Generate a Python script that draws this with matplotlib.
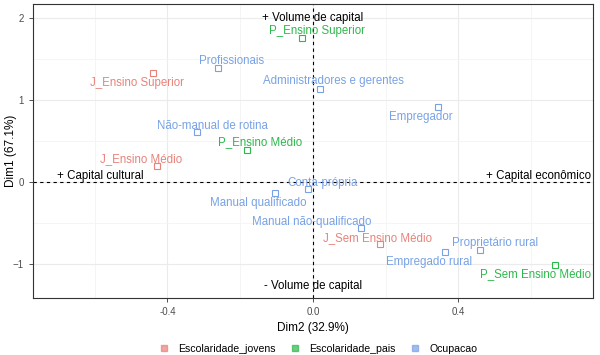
#!/usr/bin/env python3

import matplotlib
matplotlib.use("Agg")
import matplotlib.pyplot as plt
from matplotlib.lines import Line2D

plt.rcParams["font.family"] = ["Liberation Sans", "DejaVu Sans"]

# category coordinates (Dim2 = x, Dim1 = y)
labels = [
    "J_Ensino Superior", "J_Ensino Médio", "J_Sem Ensino Médio",
    "P_Ensino Superior", "P_Ensino Médio", "P_Sem Ensino Médio",
    "Profissionais", "Administradores e gerentes", "Empregador",
    "Não-manual de rotina", "Conta-própria", "Manual qualificado",
    "Manual não-qualificado", "Empregado rural", "Proprietário rural",
]
groups = [
    "Escolaridade_jovens", "Escolaridade_jovens", "Escolaridade_jovens",
    "Escolaridade_pais", "Escolaridade_pais", "Escolaridade_pais",
    "Ocupacao", "Ocupacao", "Ocupacao", "Ocupacao", "Ocupacao",
    "Ocupacao", "Ocupacao", "Ocupacao", "Ocupacao",
]
dim2 = [-0.44, -0.43, 0.184, -0.03, -0.18, 0.665, -0.261, 0.019, 0.344,
        -0.319, -0.014, -0.104, 0.131, 0.363, 0.459]
dim1 = [1.33, 0.20, -0.76, 1.76, 0.39, -1.01, 1.39, 1.13, 0.91,
        0.61, -0.09, -0.13, -0.56, -0.85, -0.83]

# repelled label offsets in pixels (dx, dy)
offsets = [(-16, -10), (-16, 7), (-2, 6), (15, 7), (13, 8), (-19, -9),
           (14, 7), (14, 8), (-17, -10), (15, 6), (15, 6), (-17, -10),
           (-49, 6), (-16, -10), (15, 7)]

colors = {
    "Escolaridade_jovens": "#E8827A",
    "Escolaridade_pais": "#2DB84B",
    "Ocupacao": "#78A2E6",
}

fig = plt.figure(figsize=(6, 3.55), dpi=100)
ax = fig.add_axes([0.055, 0.161, 0.933, 0.828])

ax.set_xlim(-0.77, 0.77)
ax.set_ylim(-1.41, 2.17)
ax.set_xticks([-0.4, 0.0, 0.4])
ax.set_xticklabels(["-0.4", "0.0", "0.4"])
ax.set_yticks([-1, 0, 1, 2])
ax.set_xticks([-0.6, -0.2, 0.2, 0.6], minor=True)
ax.set_yticks([-0.5, 0.5, 1.5], minor=True)
ax.grid(True, which="major", color="#EBEBEB", lw=0.8)
ax.grid(True, which="minor", color="#F4F4F4", lw=0.6)
ax.set_axisbelow(True)
ax.tick_params(which="major", length=3, color="#333333", labelsize=7,
               labelcolor="#4D4D4D", width=0.6)
ax.tick_params(which="minor", length=0)
for s in ax.spines.values():
    s.set_color("#333333")
    s.set_linewidth(0.8)

ax.axhline(0, color="black", ls="--", lw=0.8, dashes=(3, 3))
ax.axvline(0, color="black", ls="--", lw=0.8, dashes=(3, 3))

for lab, g, x, y, (dx, dy) in zip(labels, groups, dim2, dim1, offsets):
    c = colors[g]
    ax.plot(x, y, marker="s", ms=4.5, mfc="none", mec=c, mew=0.8, ls="none")
    ax.annotate(lab, (x, y), xytext=(dx, dy), textcoords="offset pixels",
                ha="center", va="center", color=c, fontsize=8.3)

ax.text(0, 2.0, "+ Volume de capital", ha="center", va="center", fontsize=8.3)
ax.text(0, -1.27, "- Volume de capital", ha="center", va="center", fontsize=8.3)
ax.text(-0.585, 0.08, "+ Capital cultural", ha="center", va="center", fontsize=8.3)
ax.text(0.62, 0.08, "+ Capital econômico", ha="center", va="center", fontsize=8.3)

ax.set_xlabel("Dim2 (32.9%)", fontsize=8.5, labelpad=4)
ax.set_ylabel("Dim1 (67.1%)", fontsize=8.5)
ax.yaxis.set_label_coords(-0.029, 0.5)

handles = [Line2D([], [], marker="s", ls="none", ms=5, mfc=c, mec=c, alpha=0.7)
           for c in colors.values()]
fig.legend(handles, list(colors.keys()), loc="center", ncol=3,
           bbox_to_anchor=(0.53, 0.018), frameon=False, fontsize=7.6,
           handletextpad=0.8, columnspacing=1.4, handlelength=1)

fig.savefig("out.png", dpi=100)
